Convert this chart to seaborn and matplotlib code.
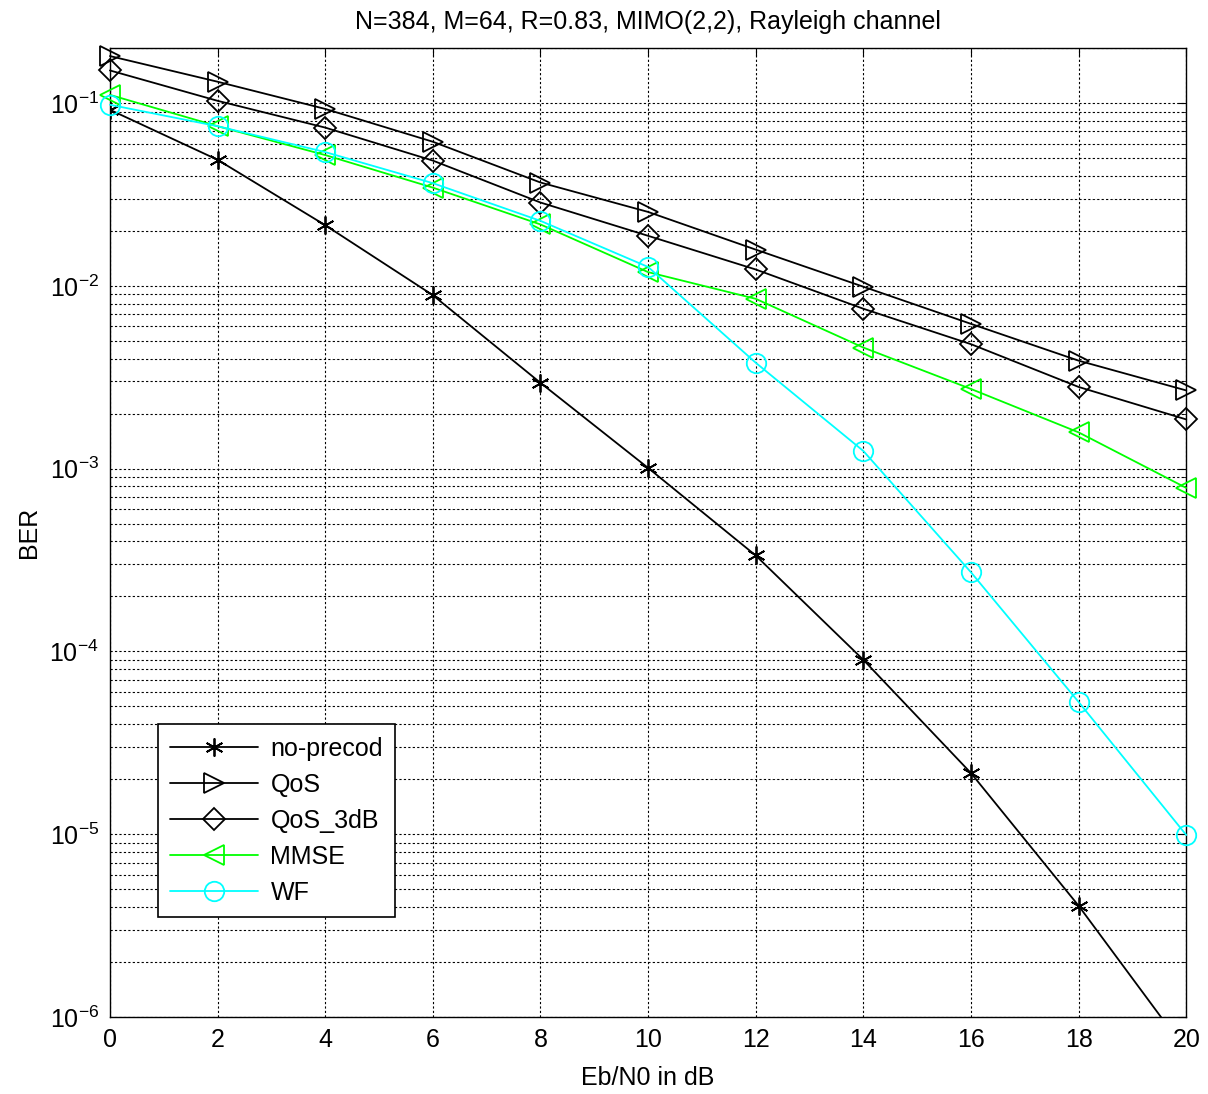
import numpy as np
import pandas as pd
import matplotlib
matplotlib.use("Agg")
import matplotlib.pyplot as plt
import matplotlib.ticker as mticker
import seaborn as sns

# Eb/N0 grid and BER curves
ebn0 = [0, 2, 4, 6, 8, 10, 12, 14, 16, 18, 20]
ber_noprecod = [0.092, 0.049, 0.0215, 0.0089, 0.00295, 0.00101, 0.000335, 0.00009, 0.0000216, 0.00000406, 0.00000065]
ber_qos = [0.181, 0.131, 0.093, 0.0615, 0.0368, 0.0254, 0.0158, 0.0099, 0.0062, 0.0039, 0.00268]
ber_qos3db = [0.151, 0.103, 0.0735, 0.0485, 0.0286, 0.0188, 0.0123, 0.0075, 0.0048, 0.0028, 0.00186]
ber_mmse = [0.111, 0.0748, 0.052, 0.0345, 0.0217, 0.0119, 0.0085, 0.0046, 0.00273, 0.00158, 0.000785]
ber_wf = [0.098, 0.0748, 0.054, 0.0365, 0.0227, 0.0127, 0.0038, 0.00125, 0.000271, 0.0000529, 0.0000099]

labels = ["no-precod", "QoS", "QoS_3dB", "MMSE", "WF"]

sns.set_style("white")
plt.rcParams["font.family"] = ["Liberation Sans", "DejaVu Sans"]
plt.rcParams["mathtext.fontset"] = "custom"
plt.rcParams["mathtext.rm"] = "Liberation Sans"
plt.rcParams["mathtext.it"] = "Liberation Sans"
plt.rcParams["mathtext.default"] = "regular"
plt.rcParams["text.color"] = "black"
plt.rcParams["axes.labelcolor"] = "black"
plt.rcParams["xtick.color"] = "black"
plt.rcParams["ytick.color"] = "black"

fig = plt.figure(figsize=(12.08, 10.94), dpi=100)
ax = fig.add_axes([0.091, 0.0704, 0.891, 0.8856])

# (values, colour, marker, size, clip)
styles = [
    (ber_noprecod, "k", (6, 2, 0), 13, True),
    (ber_qos, "k", ">", 14, False),
    (ber_qos3db, "k", "D", 11, False),
    (ber_mmse, (0, 1, 0), "<", 14, False),
    (ber_wf, (0, 1, 1), "o", 14, False),
]

for (vals, col, mk, ms, clip), lab in zip(styles, labels):
    sns.lineplot(x=ebn0, y=vals, ax=ax, color=col, marker=mk, markersize=ms,
                 markerfacecolor="none", markeredgecolor=col, markeredgewidth=1.3,
                 linewidth=1.3, label=lab, clip_on=clip, zorder=3)

ax.set_yscale("log")
ax.set_xlim(0, 20)
ax.set_ylim(1e-6, 0.2)
ax.set_xticks(np.arange(0, 21, 2))
ax.yaxis.set_major_locator(mticker.LogLocator(base=10, numticks=10))
ax.yaxis.set_minor_locator(mticker.LogLocator(base=10, subs=np.arange(2, 10), numticks=20))
ax.yaxis.set_minor_formatter(mticker.NullFormatter())
ax.yaxis.set_major_formatter(mticker.LogFormatterMathtext())

gl = dict(color="black", linestyle=(0, (2, 2)), linewidth=0.8)
ax.grid(True, which="major", axis="both", **gl)
ax.grid(True, which="minor", axis="y", **gl)

ax.tick_params(which="both", direction="in", top=True, right=True, labelsize=18, color="black")
ax.tick_params(which="major", length=6, pad=8)
ax.tick_params(which="minor", length=3)
for sp in ax.spines.values():
    sp.set_color("black")
    sp.set_linewidth(1.0)

ax.set_title("N=384, M=64, R=0.83, MIMO(2,2), Rayleigh channel", fontsize=18, pad=14)
ax.set_xlabel("Eb/N0 in dB", fontsize=18, labelpad=10)
ax.set_ylabel("BER", fontsize=18, labelpad=6)

leg = ax.legend(loc="upper left", bbox_to_anchor=(0.0446, 0.3024), fontsize=18,
                frameon=True, fancybox=False, edgecolor="black", framealpha=1,
                borderaxespad=0, handlelength=3.5, borderpad=0.5, labelspacing=0.48,
                handletextpad=0.5)
leg.get_frame().set_linewidth(1.2)
leg.set_zorder(5)

fig.savefig("out.png", dpi=100)
